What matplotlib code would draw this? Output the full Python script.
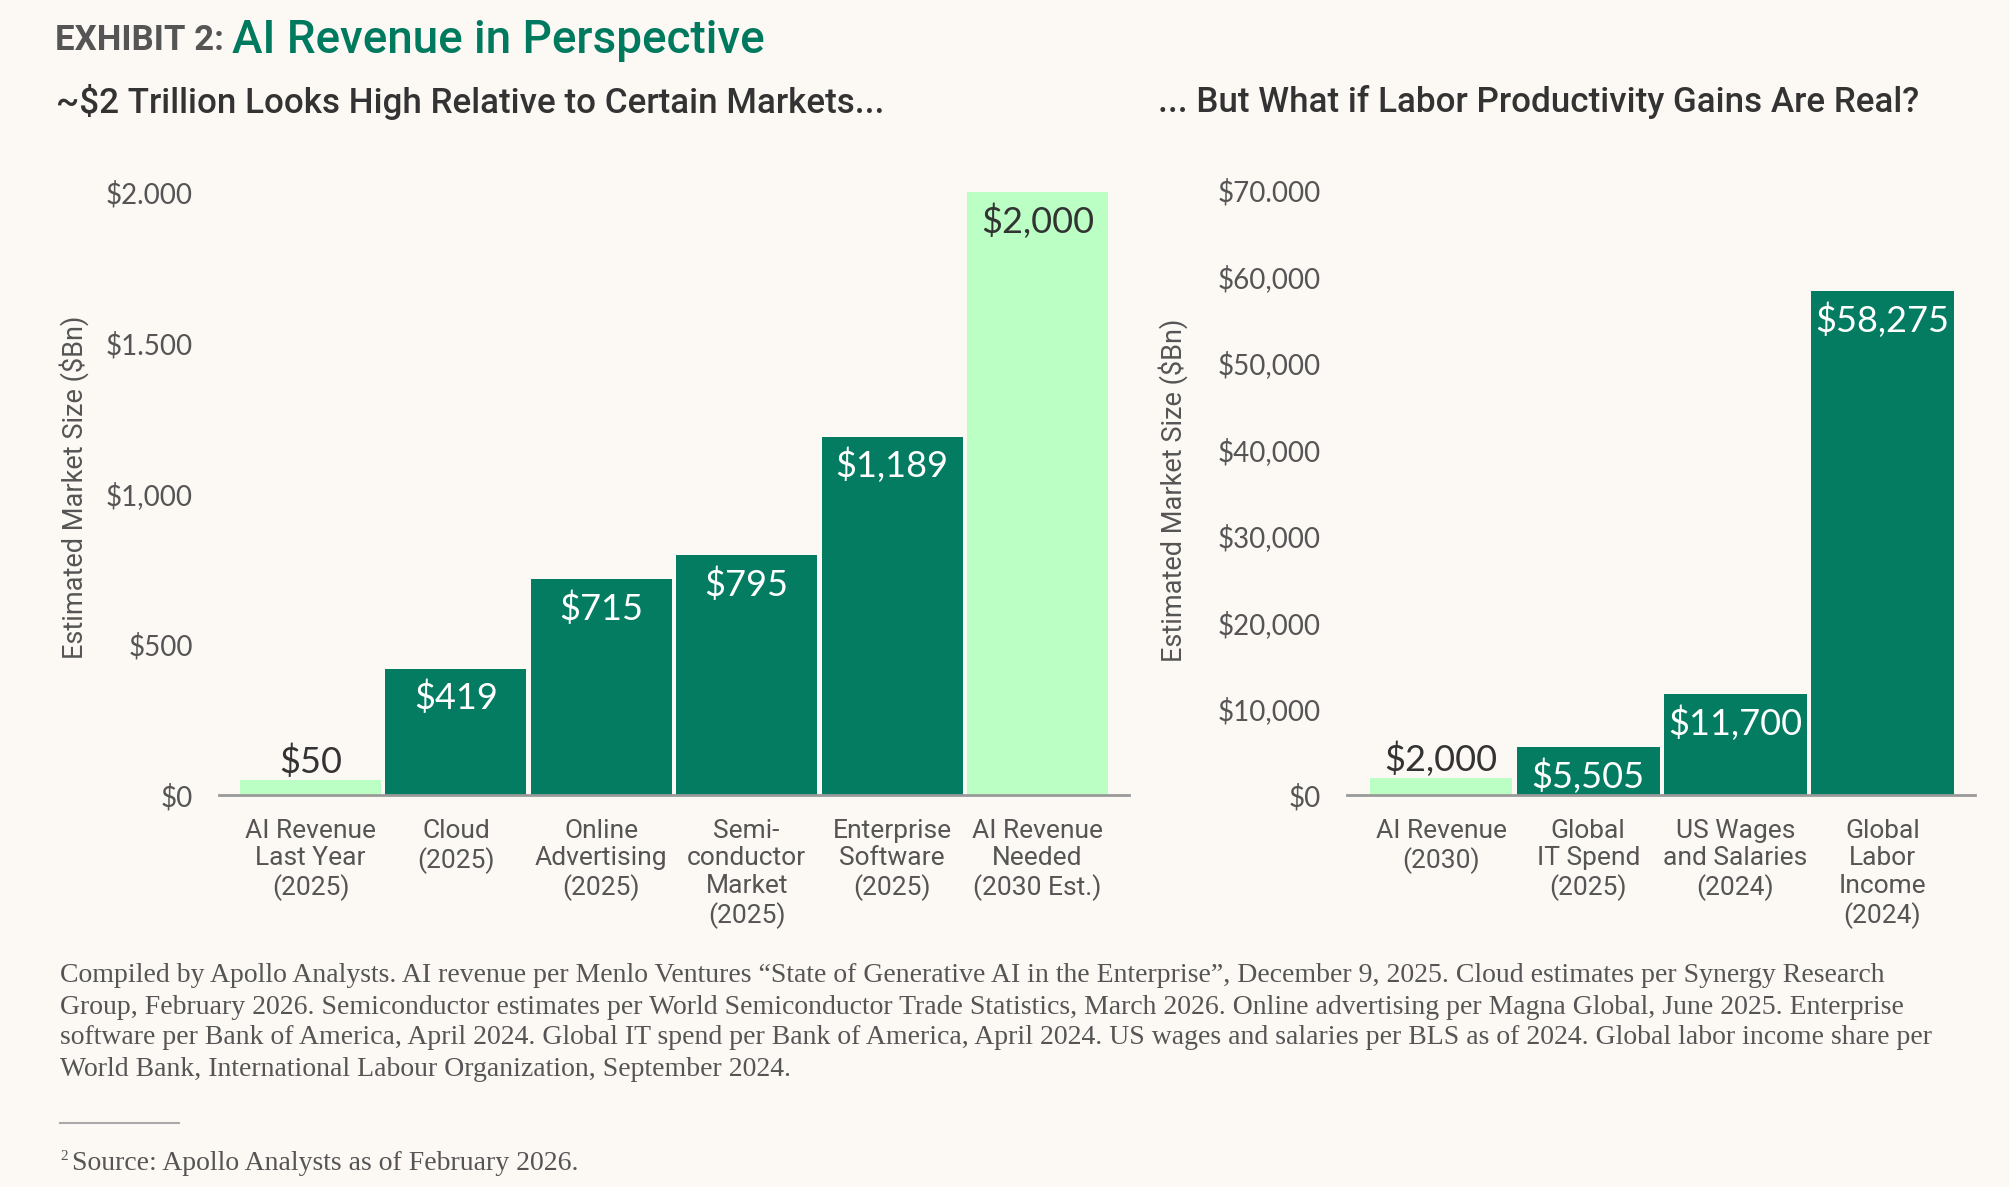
import matplotlib
matplotlib.use("Agg")
import matplotlib.pyplot as plt
from matplotlib import font_manager as fm

# ---------------- data ----------------
left_categories = ["AI Revenue\nLast Year\n(2025)", "Cloud\n(2025)", "Online\nAdvertising\n(2025)",
                   "Semi-\nconductor\nMarket\n(2025)", "Enterprise\nSoftware\n(2025)",
                   "AI Revenue\nNeeded\n(2030 Est.)"]
left_values = [50, 419, 715, 795, 1189, 2000]
left_highlight = [True, False, False, False, False, True]
left_ticks = [0, 500, 1000, 1500, 2000]
left_ticklabels = ["$0", "$500", "$1,000", "$1.500", "$2.000"]

right_categories = ["AI Revenue\n(2030)", "Global\nIT Spend\n(2025)", "US Wages\nand Salaries\n(2024)",
                    "Global\nLabor\nIncome\n(2024)"]
right_values = [2000, 5505, 11700, 58275]
right_highlight = [True, False, False, False]
right_ticks = [0, 10000, 20000, 30000, 40000, 50000, 60000, 70000]
right_ticklabels = ["$0", "$10,000", "$20,000", "$30,000", "$40,000", "$50,000", "$60,000", "$70.000"]

title_prefix = "EXHIBIT 2:"
title_main = "AI Revenue in Perspective"
left_subtitle = "~$2 Trillion Looks High Relative to Certain Markets..."
right_subtitle = "... But What if Labor Productivity Gains Are Real?"
ylabel = "Estimated Market Size ($Bn)"
footnote_lines = [
    "Compiled by Apollo Analysts. AI revenue per Menlo Ventures \u201cState of Generative AI in the Enterprise\u201d, December 9, 2025. Cloud estimates per Synergy Research",
    "Group, February 2026. Semiconductor estimates per World Semiconductor Trade Statistics, March 2026. Online advertising per Magna Global, June 2025. Enterprise",
    "software per Bank of America, April 2024. Global IT spend per Bank of America, April 2024. US wages and salaries per BLS as of 2024. Global labor income share per",
    "World Bank, International Labour Organization, September 2024.",
]
source_text = "Source: Apollo Analysts as of February 2026."

# ---------------- style ----------------
BG = "#FCF8F4"
DARK = "#037C62"
LIGHT = "#BBFFC4"
GREY = "#555555"
INK = "#333333"

available = {f.name for f in fm.fontManager.ttflist}
def pick(*names):
    for n in names:
        if n in available:
            return n
    return "DejaVu Sans"

F_NUM = pick("Lato", "Inter", "DejaVu Sans")
F_CAT = pick("Liberation Sans Narrow", "Roboto", "Lato")
F_TITLE = pick("Liberation Sans Narrow", "Roboto", "Lato")
F_SUB = pick("Roboto", "Lato", "Inter")
F_SERIF = pick("Liberation Serif", "DejaVu Serif")

W, H = 2009, 1187
fig = plt.figure(figsize=(W / 100, H / 100), dpi=100, facecolor=BG)

def fx(px):
    return px / W
def fy(py):
    return 1 - py / H

def draw_panel(rect, cats, vals, hl, ticks, ticklabels, ymax, xlim):
    ax = fig.add_axes(rect, facecolor=BG)
    x = list(range(len(vals)))
    colors = [LIGHT if h else DARK for h in hl]
    ax.bar(x, vals, width=0.97, color=colors, zorder=2)
    ax.set_xlim(*xlim)
    ax.set_ylim(0, ymax)
    for s in ["top", "right", "left"]:
        ax.spines[s].set_visible(False)
    ax.spines["bottom"].set_color("#9A9A9A")
    ax.spines["bottom"].set_linewidth(2)
    ax.spines["bottom"].set_zorder(3)
    ax.set_yticks(ticks)
    ax.set_yticklabels(ticklabels, fontfamily=F_NUM, fontsize=20, color=GREY)
    ax.set_xticks(x)
    ax.set_xticklabels(cats, fontfamily=F_CAT, fontsize=19, color=GREY, linespacing=1.2)
    ax.tick_params(axis="y", length=0, pad=19)
    ax.tick_params(axis="x", length=0, pad=17)
    for xi, v, h in zip(x, vals, hl):
        outside = v < 0.05 * ymax
        ax.annotate(f"${v:,}", (xi, v), xytext=(0, 13 if outside else -21),
                    textcoords="offset points", ha="center", va="center",
                    fontfamily=F_NUM, fontsize=26,
                    color=INK if h else "white", zorder=4)
    ax.set_ylabel(ylabel, fontfamily=F_SUB, fontsize=19.5, color=GREY)
    return ax

axL = draw_panel([fx(219), fy(795), fx(910), (795 - 190) / H], left_categories, left_values,
                 left_highlight, left_ticks, left_ticklabels, 2007, (-0.63, 5.63))
axR = draw_panel([fx(1347), fy(795), fx(628), (795 - 190) / H], right_categories, right_values,
                 right_highlight, right_ticks, right_ticklabels, 70000, (-0.64, 3.63))
axL.yaxis.set_label_coords((89 - 219) / 910, 1 - (487 - 190) / 605)
axR.yaxis.set_label_coords((1188 - 1347) / 628, 1 - (490 - 190) / 605)

# titles
fig.text(fx(55), fy(41), title_prefix, fontfamily=F_TITLE, fontweight="bold",
         fontsize=25, color=GREY, va="center", ha="left")
fig.text(fx(232), fy(40), title_main, fontfamily=F_SUB, fontweight="medium",
         fontsize=33, color="#007A5E", va="center", ha="left")
fig.text(fx(56), fy(102), left_subtitle, fontfamily=F_SUB, fontweight="medium",
         fontsize=25.2, color=INK, va="center", ha="left")
fig.text(fx(1158), fy(102), right_subtitle, fontfamily=F_SUB, fontweight="medium",
         fontsize=25.2, color=INK, va="center", ha="left")

# footnotes
for i, line in enumerate(footnote_lines):
    fig.text(fx(60), fy(976 + i * 31), line, fontfamily=F_SERIF, fontsize=20,
             color=GREY, va="center", ha="left")
fig.add_artist(plt.Line2D([fx(60), fx(179)], [fy(1123), fy(1123)], color="#AAAAAA", lw=1.5))
fig.text(fx(60), fy(1157), "2", fontfamily=F_SERIF, fontsize=11, color=GREY, va="center", ha="left")
fig.text(fx(72), fy(1164), source_text, fontfamily=F_SERIF, fontsize=20, color=GREY,
         va="center", ha="left")

fig.savefig("out.png", dpi=100, facecolor=BG)
